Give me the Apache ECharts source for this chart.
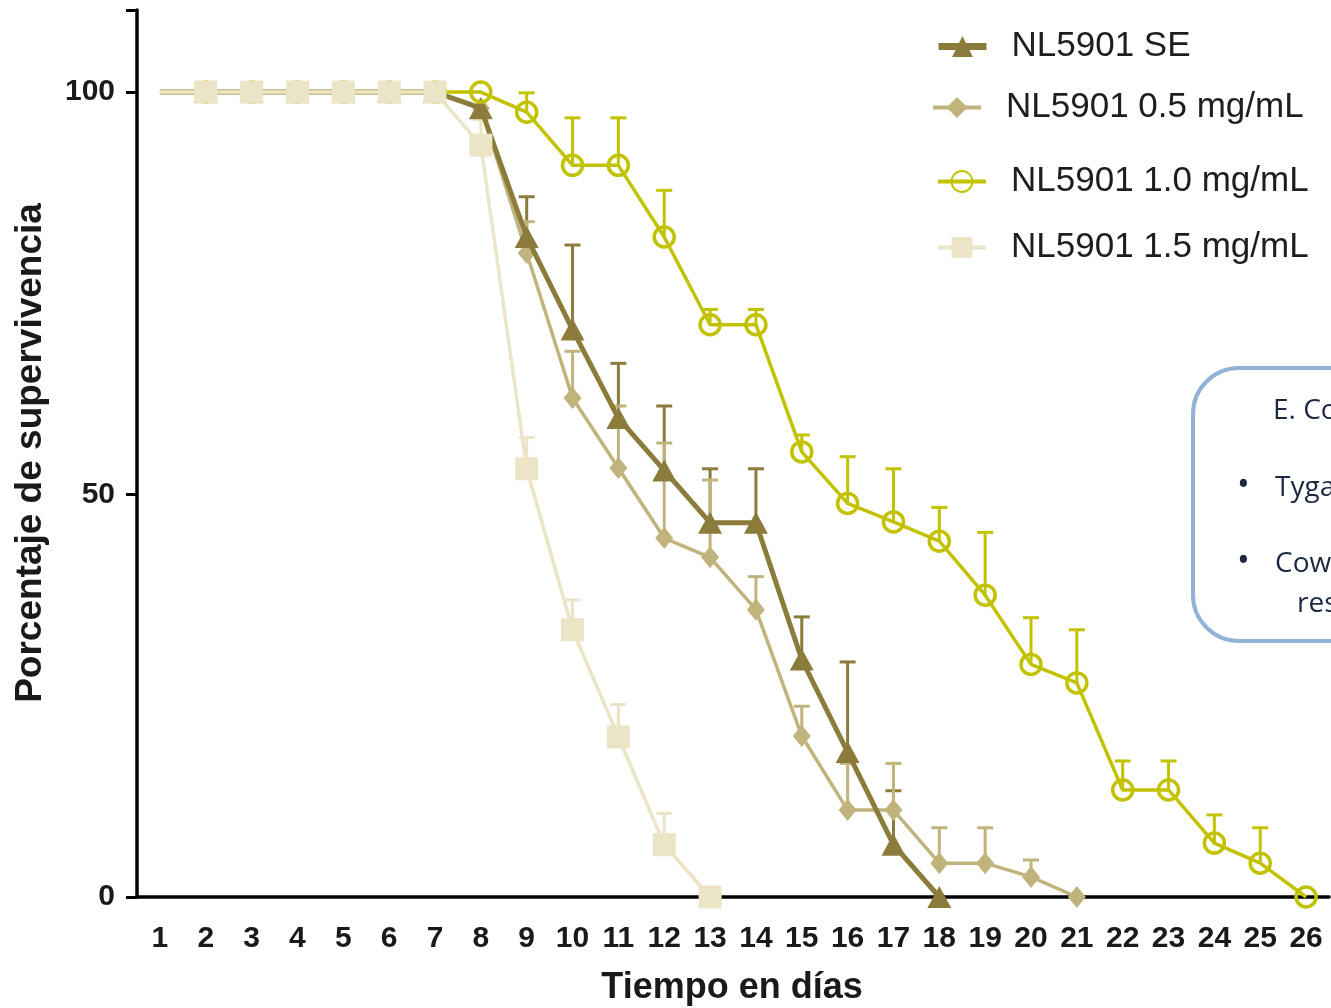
<!DOCTYPE html>
<html>
<head>
<meta charset="utf-8">
<script src="https://cdn.jsdelivr.net/npm/echarts@6/dist/echarts.min.js"></script>
<style>
  html, body { margin: 0; padding: 0; background: #fff; }
  #chart { width: 1331px; height: 1008px; }
</style>
</head>
<body>
<div id="chart"></div>
<script>
// Days after treatment (x axis categories)
const days = ['1','2','3','4','5','6','7','8','9','10','11','12','13','14','15','16','17','18','19','20','21','22','23','24','25','26'];

// Survival (%) per day for each group, and the upper end of each error bar (null = no bar)
const seSurvival  = [100,100,100,100,100,100,100,98,82,70.5,59.5,53,46.5,46.5,29.5,18,6.5,0];
const seUpper     = [null,null,null,null,null,null,null,null,87,81,66.3,61,53.2,53.2,34.8,29.2,13.2,null];

const d05Survival = [100,100,100,100,100,100,100,98,80,62,53.3,44.6,42.2,35.7,20,10.8,10.8,4.2,4.2,2.5,0];
const d05Upper    = [null,null,null,null,null,null,null,null,83.9,67.8,61,56.4,51.8,39.8,23.7,16.6,16.6,8.6,8.6,4.6,null];

const d10Survival = [100,100,100,100,100,100,100,100,97.5,90.9,90.9,82,71.1,71.1,55.3,48.9,46.6,44.2,37.5,28.9,26.6,13.3,13.3,6.7,4.2,0];
const d10Upper    = [null,null,null,null,null,null,null,null,99.9,96.8,96.8,87.8,73,73,57.4,54.7,53.2,48.4,45.3,34.7,33.2,16.9,16.9,10.2,8.6,null];

const d15Survival = [100,100,100,100,100,100,100,93.4,53.2,33.2,19.9,6.5,0];
const d15Upper    = [null,null,null,null,null,null,null,96.6,57.1,36.9,23.9,10.4,null];

const seriesNames = ['NL5901 SE','NL5901 0.5 mg/mL','NL5901 1.0 mg/mL','NL5901 1.5 mg/mL'];
const yTicks = [0, 50, 100];

const COLORS = ['#8b7c3b', '#c0b47c', '#c2c200', '#ebe4c6'];

// first day has no marker, only the line
function lineData(values) {
  return values.map((v, i) => i === 0 ? { value: v, symbol: 'none' } : v);
}

function errorData(values, upper) {
  const out = [];
  upper.forEach((u, i) => { if (u !== null) out.push([i, values[i], u]); });
  return out;
}

function errorBars(name, values, upper, color, width) {
  return {
    type: 'custom',
    name: name + ' error',
    z: 1,
    silent: true,
    data: errorData(values, upper),
    encode: { x: 0, y: 1 },
    renderItem: function (params, api) {
      const idx = api.value(0);
      const base = api.coord([idx, api.value(1)]);
      const top = api.coord([idx, api.value(2)]);
      const half = 8;
      return {
        type: 'group',
        children: [
          { type: 'line', shape: { x1: base[0], y1: base[1], x2: top[0], y2: top[1] },
            style: { stroke: color, lineWidth: width } },
          { type: 'line', shape: { x1: top[0] - half, y1: top[1], x2: top[0] + half, y2: top[1] },
            style: { stroke: color, lineWidth: width } }
        ]
      };
    }
  };
}

const chart = echarts.init(document.getElementById('chart'), null, { renderer: 'canvas' });

const legendText = { fontFamily: 'Liberation Sans, Arial, sans-serif', fontSize: 35, color: '#1e1e1e', padding: [0, 0, 0, 20] };
function legendAt(name, left, centerY, lineWidth) {
  return {
    data: [name], left: left, top: centerY - 15, orient: 'horizontal', padding: 0,
    itemWidth: 48, itemHeight: 26, itemGap: 0, selectedMode: false,
    lineStyle: { width: lineWidth },
    textStyle: legendText
  };
}

const boxFont = '28px "Open Sans", "Noto Sans", sans-serif';
const boxColor = '#1c2741';

chart.setOption({
  animation: false,
  backgroundColor: '#ffffff',
  grid: { left: 137, right: 2, top: 10, bottom: 111, containLabel: false },
  legend: [
    legendAt(seriesNames[0], 935, 44, 7),
    legendAt(seriesNames[1], 931, 105, 4),
    legendAt(seriesNames[2], 936, 179, 4),
    legendAt(seriesNames[3], 936, 245, 4)
  ],
  xAxis: {
    type: 'category',
    data: days,
    boundaryGap: true,
    axisLine: { lineStyle: { color: '#000', width: 3.5 } },
    axisTick: { alignWithLabel: true, length: 11, lineStyle: { color: '#000', width: 3 } },
    axisLabel: {
      interval: 0, margin: 27, color: '#1a1a1a', fontWeight: 'bold', fontSize: 30,
      fontFamily: 'Liberation Sans, Arial, sans-serif'
    },
    splitLine: { show: false }
  },
  yAxis: {
    type: 'value',
    min: 0, max: 110.2, interval: 50,
    axisLine: { show: true, lineStyle: { color: '#000', width: 3.5 } },
    axisTick: { show: true, length: 11, lineStyle: { color: '#000', width: 3 } },
    axisLabel: {
      margin: 22, color: '#1a1a1a', fontWeight: 'bold', fontSize: 30,
      fontFamily: 'Liberation Sans, Arial, sans-serif',
      formatter: v => yTicks.indexOf(v) >= 0 ? String(v) : ''
    },
    splitLine: { show: false }
  },
  series: [
    errorBars(seriesNames[0], seSurvival, seUpper, COLORS[0], 3),
    errorBars(seriesNames[1], d05Survival, d05Upper, COLORS[1], 3),
    errorBars(seriesNames[2], d10Survival, d10Upper, COLORS[2], 3),
    errorBars(seriesNames[3], d15Survival, d15Upper, COLORS[3], 3),
    {
      type: 'line', name: seriesNames[0], data: lineData(seSurvival), z: 3,
      symbol: 'triangle', symbolSize: [24, 22], showAllSymbol: true,
      lineStyle: { color: COLORS[0], width: 5 },
      itemStyle: { color: COLORS[0] }
    },
    {
      type: 'line', name: seriesNames[1], data: lineData(d05Survival), z: 2,
      symbol: 'diamond', symbolSize: [18, 22], showAllSymbol: true,
      lineStyle: { color: COLORS[1], width: 3.5 },
      itemStyle: { color: COLORS[1] }
    },
    {
      type: 'line', name: seriesNames[2], data: lineData(d10Survival), z: 4,
      symbol: 'circle', symbolSize: 20, showAllSymbol: true,
      lineStyle: { color: COLORS[2], width: 3.5 },
      itemStyle: { color: 'rgba(255,255,255,0)', borderColor: COLORS[2], borderWidth: 3.5 }
    },
    {
      type: 'line', name: seriesNames[3], data: lineData(d15Survival), z: 5,
      symbol: 'rect', symbolSize: 23, showAllSymbol: true,
      lineStyle: { color: COLORS[3], width: 3.5 },
      itemStyle: { color: COLORS[3] }
    }
  ],
  graphic: [
    {
      type: 'text', x: 732, y: 988,
      style: {
        text: 'Tiempo en días', align: 'center', verticalAlign: 'middle',
        font: 'bold 36px "Liberation Sans", Arial, sans-serif', fill: '#1a1a1a'
      }
    },
    {
      type: 'text',
      x: 31, y: 453, rotation: Math.PI / 2,
      style: {
        text: 'Porcentaje de supervivencia', align: 'center', verticalAlign: 'middle',
        font: 'bold 37px "Liberation Sans", Arial, sans-serif', fill: '#1a1a1a'
      }
    },
    {
      type: 'rect', x: 1193, y: 368,
      shape: { x: 0, y: 0, width: 260, height: 273, r: 46 },
      style: { fill: '#ffffff', stroke: '#93b2d8', lineWidth: 4 }
    },
    { type: 'text', x: 1273, y: 411, style: { text: 'E. Co', verticalAlign: 'middle', font: boxFont, fill: boxColor } },
    { type: 'text', x: 1237, y: 486, style: { text: '•', verticalAlign: 'middle', font: '34px "Open Sans", sans-serif', fill: boxColor } },
    { type: 'text', x: 1275, y: 488, style: { text: 'Tyga', verticalAlign: 'middle', font: boxFont, fill: boxColor } },
    { type: 'text', x: 1237, y: 562, style: { text: '•', verticalAlign: 'middle', font: '34px "Open Sans", sans-serif', fill: boxColor } },
    { type: 'text', x: 1275, y: 564, style: { text: 'Cow', verticalAlign: 'middle', font: boxFont, fill: boxColor } },
    { type: 'text', x: 1297, y: 604, style: { text: 'res', verticalAlign: 'middle', font: boxFont, fill: boxColor } }
  ]
});
</script>
</body>
</html>
